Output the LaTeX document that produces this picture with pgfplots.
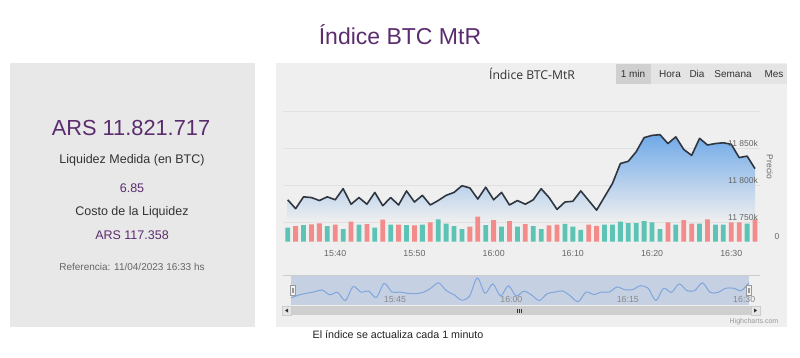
\documentclass[border=0pt]{standalone}
\usepackage{pgfplots}
\pgfplotsset{compat=1.18}
\usepackage{fontspec}
\setmainfont{Liberation Sans}
\newfontfamily\opensans{Open Sans}
\definecolor{purp}{HTML}{5B2D6E}
\definecolor{panelL}{HTML}{E8E8E8}
\definecolor{panelR}{HTML}{EFEFEF}
\definecolor{gridc}{HTML}{E1E1E1}
\definecolor{volup}{HTML}{5CC3B5}
\definecolor{voldn}{HTML}{F38B8B}
\definecolor{linec}{HTML}{2F3640}
\definecolor{areatop}{HTML}{70A9E8}
\definecolor{navband}{HTML}{C6D0E3}
\definecolor{navline}{HTML}{7FA6DC}
\definecolor{txt}{HTML}{333333}
\definecolor{lbl}{HTML}{666666}
\definecolor{btnsel}{HTML}{D0D0D0}
\definecolor{btn}{HTML}{E4E4E4}
\definecolor{cC}{HTML}{CCCCCC}
\definecolor{cF2}{HTML}{F2F2F2}
\definecolor{c99}{HTML}{999999}
\definecolor{cE6}{HTML}{E6E6E6}
\definecolor{cCF}{HTML}{CFCFCF}
\definecolor{c33}{HTML}{333333}
\definecolor{c22}{HTML}{222222}
\definecolor{navlbl}{HTML}{888888}
\newcommand{\fs}[1]{\fontsize{#1bp}{#1bp}\selectfont}
\pgfplotsset{every axis/.append style={scaled ticks=false}}
\begin{document}
\begin{tikzpicture}[x=1bp,y=1bp]
\useasboundingbox (0,0) rectangle (800,357);
\fill[white] (0,0) rectangle (800,357);
% page title
\node[purp, font=\fs{23}] at (400,{357-35}) {Índice BTC MtR};
% left panel
\fill[panelL] (10,30) rectangle (255,294);
\node[purp, font=\fs{21.8}] at (131,{357-128}) {ARS 11.821.717};
\node[txt, font=\fs{12.5}] at (132,{357-160}) {Liquidez Medida (en BTC)};
\node[purp, font=\fs{12.5}] at (132,{357-188}) {6.85};
\node[txt, font=\fs{12.5}] at (132,{357-212}) {Costo de la Liquidez};
\node[purp, font=\fs{12.5}] at (132,{357-235}) {ARS 117.358};
\node[lbl, font=\fs{10}] at (132,{357-267}) {Referencia: 11/04/2023 16:33 hs};
% right panel
\fill[panelR] (276,30) rectangle (787,294);
\fill[btnsel] (616,273) rectangle (651,293.5);
\fill[btn] (651,273) rectangle (787,293.5);
\node[txt, font=\fs{10}] at (633,{357-74}) {1 min};
\node[txt, font=\fs{10}] at (670,{357-74}) {Hora};
\node[txt, font=\fs{10}] at (697,{357-74}) {Dia};
\node[txt, font=\fs{10}] at (733,{357-74}) {Semana};
\node[txt, font=\fs{10}] at (774,{357-74}) {Mes};
\node[txt, font=\opensans\fs{12.2}] at (532,{357-74}) {Índice BTC-MtR};
% main price axis
\begin{axis}[at={(283bp,135bp)}, anchor=south west, scale only axis,
  width=477bp, height=114bp, xmin=-0.594, xmax=59.63, ymin=11750, ymax=11904,
  axis line style={draw=none}, xtick=\empty, ytick={11750,11800,11850,11900},
  yticklabels={}, major tick length=0, ymajorgrids, grid style={gridc, line width=0.8bp}]
\addplot[draw=none, top color=areatop, bottom color=panelR] coordinates {
(0,11750) (0,11780) (1,11768) (2,11784) (3,11783) (4,11779) (5,11784) (6,11780) (7,11795) (8,11774) (9,11783)
(10,11774) (11,11790) (12,11772) (13,11783) (14,11773) (15,11792) (16,11777) (17,11786) (18,11773) (19,11779)
(20,11786) (21,11790) (22,11799) (23,11796) (24,11781) (25,11797) (26,11780) (27,11790) (28,11773) (29,11779)
(30,11774) (31,11780) (32,11795) (33,11783) (34,11767) (35,11777) (36,11778) (37,11792) (38,11779) (39,11766)
(40,11784) (41,11802) (42,11829) (43,11832) (44,11845) (45,11864) (46,11867) (47,11868) (48,11856) (49,11865)
(50,11848) (51,11840) (52,11863) (53,11854) (54,11856) (55,11857) (56,11855) (57,11837) (58,11839) (59,11822) (59,11750)} -- cycle;
\addplot[linec, line width=1.6bp, line join=round] coordinates {
(0,11780) (1,11768) (2,11784) (3,11783) (4,11779) (5,11784) (6,11780) (7,11795) (8,11774) (9,11783)
(10,11774) (11,11790) (12,11772) (13,11783) (14,11773) (15,11792) (16,11777) (17,11786) (18,11773) (19,11779)
(20,11786) (21,11790) (22,11799) (23,11796) (24,11781) (25,11797) (26,11780) (27,11790) (28,11773) (29,11779)
(30,11774) (31,11780) (32,11795) (33,11783) (34,11767) (35,11777) (36,11778) (37,11792) (38,11779) (39,11766)
(40,11784) (41,11802) (42,11829) (43,11832) (44,11845) (45,11864) (46,11867) (47,11868) (48,11856) (49,11865)
(50,11848) (51,11840) (52,11863) (53,11854) (54,11856) (55,11857) (56,11855) (57,11837) (58,11839) (59,11822)};
\end{axis}
% volume axis
\begin{axis}[at={(283bp,115.3bp)}, anchor=south west, scale only axis,
  width=477bp, height=30bp, xmin=-0.594, xmax=59.63, ymin=0, ymax=30,
  axis line style={draw=none}, ytick=\empty, xtick={6,16,26,36,46,56},
  xticklabels={15:40,15:50,16:00,16:10,16:20,16:30}, major tick length=0,
  xticklabel style={anchor=base, yshift=-15bp, font=\fs{8.8}, text=lbl}]
\addplot[ybar, bar width=4.8bp, fill=volup, draw=none] coordinates {
(0,14) (2,16.5) (5,15.7) (7,12.5) (9,17.2) (11,14.2) (13,17.2) (15,16.5) (17,17) (19,22.3) (20,18) (21,15.7)
(22,12.7) (25,16.5) (27,15) (29,15) (31,15.5) (32,12.5) (35,17.8) (36,15) (37,11.8) (40,17.2) (41,17.2) (42,20)
(43,18.5) (44,18.5) (45,20.7) (46,19.3) (47,12.5) (49,17) (52,18) (54,17) (55,17) (58,18)};
\addplot[ybar, bar width=4.8bp, fill=voldn, draw=none] coordinates {
(1,15.5) (3,17.3) (4,18.3) (6,17) (8,20.2) (10,17.7) (12,22) (14,17.2) (16,16.3) (18,19.3) (23,15) (24,25)
(26,21.7) (28,20.7) (30,17.7) (33,16.3) (34,17.2) (38,17.2) (39,15.8) (48,19.3) (50,21.7) (51,18) (53,22.3)
(56,19.3) (57,19.3) (59,22.3)};
\end{axis}
% overlay axis for price labels
\begin{axis}[at={(283bp,135bp)}, anchor=south west, scale only axis,
  width=477bp, height=114bp, xmin=-0.594, xmax=59.63, ymin=11750, ymax=11904,
  axis line style={draw=none}, xtick=\empty, ytick={11750,11800,11850},
  yticklabels={11 750k,11 800k,11 850k}, yticklabel pos=right, major tick length=0,
  yticklabel style={anchor=south east, inner sep=0pt, xshift=-2bp, yshift=1.5bp, font=\fs{8.5}, text=lbl}]
\end{axis}
\node[rotate=-90, font=\fs{8.5}, lbl] at (770,{357-167}) {Precio};
\node[font=\fs{8.5}, lbl] at (777,{357-237}) {0};
% navigator
\draw[cC, line width=0.8bp] (283,81.3) -- (760,81.3);
\fill[navband] (291,52) rectangle (749,81);
\begin{axis}[at={(291bp,52bp)}, anchor=south west, scale only axis,
  width=458bp, height=29bp, xmin=0, xmax=59, ymin=10, ymax=26.1,
  axis line style={draw=none}, ytick=\empty, xtick={11,26,41,56},
  xticklabels={15:45,16:00,16:15,16:30}, major tick length=0,
  xticklabel style={anchor=base west, xshift=4bp, yshift=2.5bp, font=\fs{8.8}, text=navlbl}]
\addplot[navline, smooth, line width=1bp] coordinates {
(0,14) (1,15.5) (2,16.5) (3,17.3) (4,18.3) (5,15.7) (6,17) (7,12.5) (8,20.2) (9,17.2) (10,17.7) (11,14.2)
(12,22) (13,17.2) (14,17.2) (15,16.5) (16,16.3) (17,17) (18,19.3) (19,22.3) (20,18) (21,15.7) (22,12.7) (23,15)
(24,25) (25,16.5) (26,21.7) (27,15) (28,20.7) (29,15) (30,17.7) (31,15.5) (32,12.5) (33,16.3) (34,17.2) (35,17.8)
(36,15) (37,11.8) (38,17.2) (39,15.8) (40,17.2) (41,17.2) (42,20) (43,18.5) (44,18.5) (45,20.7) (46,19.3) (47,12.5)
(48,19.3) (49,17) (50,21.7) (51,18) (52,18) (53,22.3) (54,17) (55,17) (56,19.3) (57,19.3) (58,18) (59,22.3)};
\end{axis}
% handles
\filldraw[fill=cF2, draw=c99, line width=0.6bp] (290.5,61.5) rectangle (295.5,72);
\draw[c99, line width=0.5bp] (292.3,64) -- (292.3,69.5) (293.7,64) -- (293.7,69.5);
\filldraw[fill=cF2, draw=c99, line width=0.6bp] (746,61.5) rectangle (751,72);
\draw[c99, line width=0.5bp] (747.8,64) -- (747.8,69.5) (749.2,64) -- (749.2,69.5);
% scrollbar
\fill[cE6] (282,42) rectangle (760,51);
\fill[cCF] (291,42) rectangle (751,51);
\filldraw[fill=cE6, draw=cC, line width=0.5bp] (282,42) rectangle (291,51);
\fill[c33] (285,46.5) -- (288,48.5) -- (288,44.5) -- cycle;
\filldraw[fill=cE6, draw=cC, line width=0.5bp] (751,42) rectangle (760,51);
\fill[c33] (757,46.5) -- (754,48.5) -- (754,44.5) -- cycle;
\draw[c33, line width=0.5bp] (517.5,44.5) -- (517.5,48.5) (519.5,44.5) -- (519.5,48.5) (521.5,44.5) -- (521.5,48.5);
\node[font=\fs{7}, text=c99] at (754,{357-322}) {Highcharts.com};
% footer
\node[font=\fs{10.7}, text=c22] at (398,{357-335}) {El índice se actualiza cada 1 minuto};
\end{tikzpicture}
\end{document}
